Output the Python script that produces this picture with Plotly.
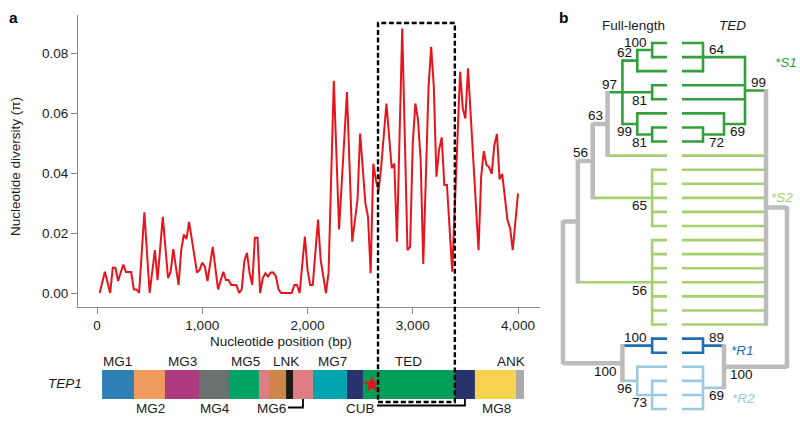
import plotly.graph_objects as go

W, H = 800, 422
FONT = "Liberation Sans, Arial, Helvetica, sans-serif"
FS = 13.5

# ---------------- data: nucleotide diversity along TEP1 ----------------
position_bp = [25, 75, 125, 150, 175, 200, 250, 275, 325, 350, 375, 400, 450, 500, 550, 575,
               625, 675, 700, 725, 775, 800, 825, 850, 875, 950, 975, 1000, 1025, 1050, 1100,
               1150, 1200, 1225, 1250, 1275, 1300, 1325, 1350, 1375, 1400, 1425, 1450, 1475,
               1500, 1525, 1550, 1575, 1600, 1625, 1650, 1675, 1700, 1725, 1750, 1775, 1800,
               1825, 1850, 1875, 1900, 1925, 1975, 2000, 2025, 2050, 2100, 2125, 2175, 2200,
               2250, 2300, 2375, 2425, 2475, 2500, 2550, 2575, 2600, 2625, 2650, 2675, 2700,
               2750, 2800, 2825, 2850, 2900, 2950, 2975, 3000, 3025, 3050, 3075, 3100, 3150,
               3175, 3200, 3225, 3250, 3275, 3300, 3325, 3375, 3450, 3475, 3500, 3525, 3625,
               3650, 3675, 3700, 3725, 3750, 3775, 3800, 3825, 3850, 3875, 3900, 3925, 3950, 4000]
diversity_pi = [0.0, 0.0071, 0.0, 0.0084, 0.0084, 0.0040, 0.0095, 0.0070, 0.0070, 0.0012, 0.0012,
                0.0, 0.0269, 0.0, 0.0143, 0.0043, 0.0254, 0.0050, 0.0071, 0.0146, 0.0027, 0.0143,
                0.0195, 0.0180, 0.0237, 0.0068, 0.0077, 0.0101, 0.0088, 0.0040, 0.0154, 0.0012,
                0.0071, 0.0043, 0.0043, 0.0027, 0.0027, 0.0026, 0.0, 0.0012, 0.0107, 0.0134,
                0.0066, 0.0027, 0.0184, 0.0184, 0.0, 0.0050, 0.0066, 0.0055, 0.0068, 0.0068,
                0.0055, 0.0012, 0.0, 0.0, 0.0, 0.0, 0.0, 0.0027, 0.0027, 0.0, 0.0188, 0.0077,
                0.0027, 0.0027, 0.0245, 0.0110, 0.0, 0.0067, 0.0708, 0.0212, 0.0670, 0.0171,
                0.0310, 0.0532, 0.0299, 0.0254, 0.0066, 0.0431, 0.0377, 0.0340, 0.0421, 0.0632,
                0.0416, 0.0432, 0.0171, 0.0882, 0.0143, 0.0154, 0.0499, 0.0632, 0.0577, 0.0443,
                0.0097, 0.0688, 0.0821, 0.0688, 0.0388, 0.0477, 0.0519, 0.0360, 0.0360, 0.0071,
                0.0738, 0.0616, 0.0582, 0.0749, 0.0143, 0.0388, 0.0473, 0.0427, 0.0420, 0.0397,
                0.0493, 0.0530, 0.0379, 0.0397, 0.0321, 0.0243, 0.0216, 0.0143, 0.0332]

x_tick_vals = [0, 1000, 2000, 3000, 4000]
x_tick_text = ["0", "1,000", "2,000", "3,000", "4,000"]
y_tick_vals = [0.0, 0.02, 0.04, 0.06, 0.08]
y_tick_text = ["0.00", "0.02", "0.04", "0.06", "0.08"]

ted_region_bp = [2670, 3400]
ted_region_top = 0.09

# TEP1 domain architecture (bp)
domain_names = ["MG1", "MG2", "MG3", "MG4", "MG5", "MG6", "LNK", "LNK", "MG6", "MG7",
                "CUB", "TED", "CUB", "MG8", "ANK"]
domain_start_bp = [48, 352, 646, 969, 1254, 1539, 1634, 1796, 1862, 2052, 2375, 2527, 3401, 3591, 3981]
domain_end_bp = [352, 646, 969, 1254, 1539, 1634, 1796, 1862, 2052, 2375, 2527, 3401, 3591, 3981, 4057]
thioester_bp = 2613

labels_above = ["MG1", "MG3", "MG5", "LNK", "MG7", "TED", "ANK"]
labels_below = ["MG2", "MG4", "MG6", "CUB", "MG8"]

# ---------------- data: phylogenies (cladograms, rank = horizontal level) ----------------
def leaf(clade):
    return {"clade": clade}


def node(level, support, *children):
    return {"level": level, "support": support, "children": list(children)}


def leaves(clade, n):
    return [leaf(clade) for _ in range(n)]


full_length_tree = node(0, None,
    node(1, None,
        node(2, 56,
            node(3, 63,
                node(4, 97,
                    node(5, 62, node(6, 100, *leaves("S1", 2)), leaf("S1")),
                    node(6, 81, *leaves("S1", 2)),
                    node(5, 99, leaf("S1"), node(6, 81, *leaves("S1", 2)))),
                leaf("S2")),
            node(6, 65, *leaves("S2", 5))),
        node(6, 56, *leaves("S2", 7))),
    node(4, 100,
        node(6, 100, *leaves("R1", 2)),
        node(5, 96, leaf("R2"), node(6, 73, *leaves("R2", 3)))))

ted_tree = node(5, None,
    node(4, None,
        node(3, 99,
            node(1, 64, *leaves("S1", 3)),
            *leaves("S1", 2),
            node(2, 69, leaf("S1"), node(1, 72, *leaves("S1", 2)))),
        *leaves("S2", 13)),
    node(2, 100,
        node(1, 89, *leaves("R1", 2)),
        node(1, 69, *leaves("R2", 4))))

clade_names = ["S1", "S2", "R1", "R2"]

# ---------------- styles ----------------
RED = "#e8141c"
AXIS_COL = "#8a8a8a"
TXT = "#1a1a1a"
domain_colors = ["#2f7fb4", "#f09a5d", "#ae3a80", "#6a726f", "#00a363", "#df7e82", "#cd8648",
                 "#201a16", "#df7e82", "#00a5b0", "#28336d", "#009e58", "#28336d", "#f6d24f", "#a9aaa9"]
clade_colors = {"S1": "#34a03c", "S2": "#a3d16e", "R1": "#1f6db3", "R2": "#9cc9e1"}
GRAY = "#bcbcbc"
W_COL, W_GRAY = 2.6, 4.5


def px(xp):
    return xp / W


def py(yp):
    return 1 - yp / H


fig = go.Figure()

# ---------------- panel a: diversity line ----------------
fig.add_trace(go.Scatter(x=position_bp, y=diversity_pi, mode="lines",
                         line=dict(color=RED, width=2), xaxis="x", yaxis="y",
                         showlegend=False, hoverinfo="skip"))

# domain bar
fig.add_trace(go.Bar(y=[0.5] * len(domain_names),
                     x=[e - s for s, e in zip(domain_start_bp, domain_end_bp)],
                     base=domain_start_bp, orientation="h", width=1,
                     marker=dict(color=domain_colors, line=dict(width=0)),
                     xaxis="x2", yaxis="y2", showlegend=False, hoverinfo="skip"))
fig.add_trace(go.Scatter(x=[thioester_bp], y=[0.5], mode="markers",
                         marker=dict(symbol="star", size=13, color=RED, line=dict(width=0)),
                         xaxis="x2", yaxis="y2", showlegend=False, hoverinfo="skip"))

# ---------------- panel b: trees ----------------
PX_PER_LEAF = 14.077
LEAF0_PX = 43
N_LEAVES = 27


def assign(t, tip_level, counter):
    if "clade" in t:
        t["y"] = counter[0]
        counter[0] += 1
        t["level"] = tip_level
        t["clades"] = {t["clade"]}
    else:
        for c in t["children"]:
            assign(c, tip_level, counter)
        t["y"] = (t["children"][0]["y"] + t["children"][-1]["y"]) / 2
        t["clades"] = set().union(*(c["clades"] for c in t["children"]))


EXT = (W_COL / 2) / PX_PER_LEAF


def gather(t, parent_level, segs, labels, is_first):
    col = clade_colors[next(iter(t["clades"]))] if len(t["clades"]) == 1 else GRAY
    segs.setdefault(col, [])
    if parent_level is not None:
        segs[col].append(((parent_level, t["y"]), (t["level"], t["y"])))
    if "children" in t:
        ch = t["children"]
        segs[col].append(((t["level"], ch[0]["y"] - EXT), (t["level"], ch[-1]["y"] + EXT)))
        if t["support"] is not None:
            labels.append((t["level"], t["y"], t["support"], is_first))
        for i, c in enumerate(ch):
            gather(c, t["level"], segs, labels, i == 0)


annotations = []
for tree, tip, xa, side in [(full_length_tree, 7, "x3", "left"), (ted_tree, 0, "x4", "right")]:
    assign(tree, tip, [0])
    segs, labs = {}, []
    gather(tree, None, segs, labs, True)
    order = [c for c in segs if c != GRAY] + [GRAY]
    for col in order:
        xs, ys = [], []
        for (x0, y0), (x1, y1) in segs[col]:
            xs += [x0, x1, None]
            ys += [y0, y1, None]
        fig.add_trace(go.Scatter(x=xs, y=ys, mode="lines",
                                 line=dict(color=col, width=W_GRAY if col == GRAY else W_COL),
                                 xaxis=xa, yaxis="y3", showlegend=False, hoverinfo="skip"))
    for lv, yv, sup, first in labs:
        annotations.append(dict(
            x=lv, y=yv, xref=xa, yref="y3", text=str(sup), showarrow=False,
            xanchor="right" if side == "left" else "left",
            xshift=-3 if side == "left" else 4,
            yanchor="bottom" if first else "top",
            yshift=-1.5 if first else 1.5,
            font=dict(size=FS, color="#111111", family=FONT)))

# ---------------- text annotations ----------------
def txt(x, y, text, size=FS, color=TXT, xanchor="center", yanchor="middle", angle=0, bold=False):
    annotations.append(dict(x=px(x), y=py(y), xref="paper", yref="paper", text=text,
                            showarrow=False, xanchor=xanchor, yanchor=yanchor, textangle=angle,
                            font=dict(size=size, color=color, family=FONT,
                                      weight="bold" if bold else "normal")))


txt(13, 17, "a", size=15.5, bold=True, color="#000")
txt(563, 17, "b", size=15.5, bold=True, color="#000")
txt(15, 167, "Nucleotide diversity (π)", angle=-90)
txt(281, 341, "Nucleotide position (bp)")
txt(84, 383, "<i>TEP1</i>", xanchor="right")

above_px = [117, 182, 245, 286, 332, 408, 511]
below_px = [150, 215, 271, 360, 496]
for name, xp in zip(labels_above, above_px):
    txt(xp, 361, name)
for name, xp in zip(labels_below, below_px):
    txt(xp, 408, name)

txt(633, 25, "Full-length")
txt(732, 25, "<i>TED</i>")
clade_label_px = {"S1": (773, 63), "S2": (769, 197), "R1": (729, 350), "R2": (730, 398)}
for c in clade_names:
    xp, yp = clade_label_px[c]
    txt(xp, yp, "<i>*" + c + "</i>", color=clade_colors[c], xanchor="left")

# ---------------- shapes ----------------
shapes = []
# dashed TED region box
shapes.append(dict(type="rect", xref="x", yref="paper", x0=ted_region_bp[0], x1=ted_region_bp[1],
                   y0=py(402), y1=py(23), line=dict(color="#000", width=2.4, dash="5px,2.6px"),
                   layer="above"))
# MG6 bracket -> second MG6 segment
mg6_mid = (domain_start_bp[8] + domain_end_bp[8]) / 2
shapes.append(dict(type="path", xref="x2", yref="paper",
                   path=f"M 1815 {py(407.5)} L {mg6_mid} {py(407.5)} L {mg6_mid} {py(399)}",
                   line=dict(color="#000", width=1.8)))
# CUB bracket -> second CUB segment
cub_mid = (domain_start_bp[12] + domain_end_bp[12]) / 2
shapes.append(dict(type="path", xref="x2", yref="paper",
                   path=f"M 2660 {py(405.5)} L {cub_mid} {py(405.5)} L {cub_mid} {py(399)}",
                   line=dict(color="#000", width=1.8)))

# ---------------- axes ----------------
X_RANGE = [-180.5, 4209]
ax_common = dict(showline=True, linecolor=AXIS_COL, linewidth=1.2, ticks="outside", ticklen=6,
                 tickcolor=AXIS_COL, tickwidth=1.2, showgrid=False, zeroline=False,
                 tickfont=dict(size=FS, color=TXT, family=FONT), fixedrange=True)
hidden = dict(visible=False, showgrid=False, zeroline=False, fixedrange=True)

lv_px_left = (667 - 563) / 7
lv_px_right = (787 - 682) / 5
pad = 0.35

fig.update_layout(
    width=W, height=H, margin=dict(l=0, r=0, t=0, b=0),
    paper_bgcolor="white", plot_bgcolor="white",
    font=dict(family=FONT, size=FS, color=TXT),
    barmode="overlay", showlegend=False,
    xaxis=dict(domain=[px(78), px(540)], range=X_RANGE, tickvals=x_tick_vals,
               ticktext=x_tick_text, anchor="y", **ax_common),
    yaxis=dict(domain=[py(307), py(15)], range=[-0.00467, 0.0927], tickvals=y_tick_vals,
               ticktext=y_tick_text, anchor="x", **ax_common),
    xaxis2=dict(domain=[px(78), px(540)], range=X_RANGE, anchor="y2", **hidden),
    yaxis2=dict(domain=[py(399), py(370)], range=[0, 1], anchor="x2", **hidden),
    xaxis3=dict(domain=[px(563 - pad * lv_px_left), px(667 + pad * lv_px_left)],
                range=[-pad, 7 + pad], anchor="y3", **hidden),
    xaxis4=dict(domain=[px(682 - pad * lv_px_right), px(787 + pad * lv_px_right)],
                range=[-pad, 5 + pad], anchor="y3", **hidden),
    yaxis3=dict(domain=[0, 1], range=[(H - LEAF0_PX) / PX_PER_LEAF, -LEAF0_PX / PX_PER_LEAF],
                anchor="x3", **hidden),
    annotations=annotations, shapes=shapes,
)

fig.write_html("out.html", config={"displayModeBar": False},
               post_script="document.body.style.margin='0';document.body.style.overflow='hidden';")
